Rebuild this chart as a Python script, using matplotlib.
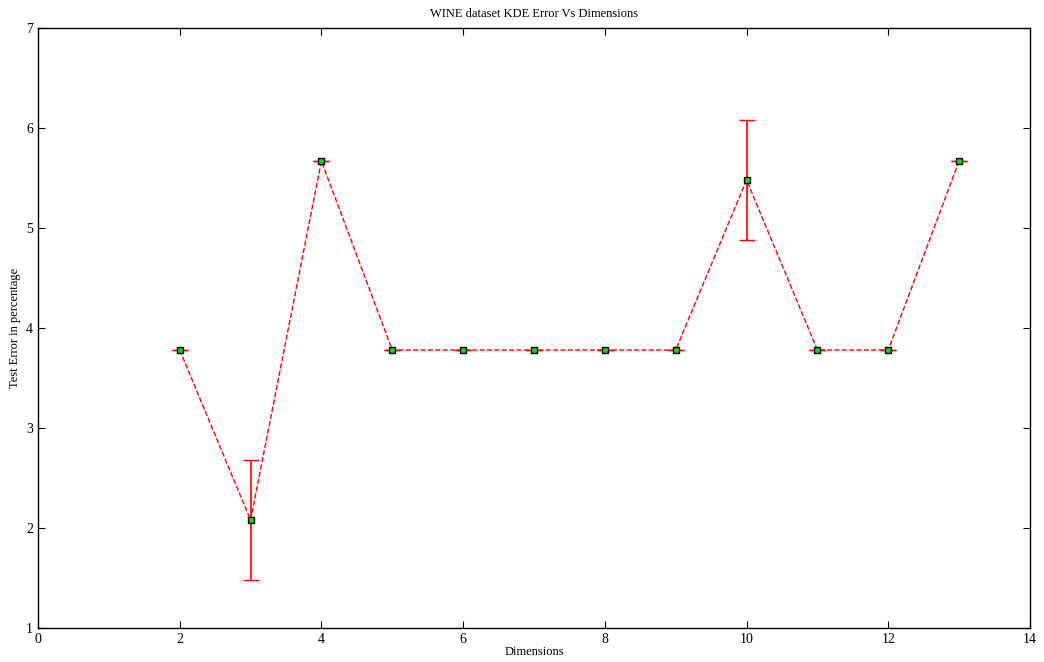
import numpy as np
import matplotlib
matplotlib.use("Agg")
import matplotlib.pyplot as plt

plt.rcParams['font.family'] = ['Liberation Serif', 'DejaVu Serif']

# data
dims = [2, 3, 4, 5, 6, 7, 8, 9, 10, 11, 12, 13]
err = [3.78, 2.08, 5.67, 3.78, 3.78, 3.78, 3.78, 3.78, 5.48, 3.78, 3.78, 5.67]
std = [0, 0.6, 0, 0, 0, 0, 0, 0, 0.6, 0, 0, 0]

fig = plt.figure(figsize=(10.44, 6.62), dpi=100)
ax = fig.add_axes([38 / 1044, 1 - 628 / 662, (1030 - 38) / 1044, 600 / 662])

ax.errorbar(dims, err, yerr=std, color='red', ls='--', lw=1, capsize=5.8,
            elinewidth=1.2, capthick=1.2, marker='s', ms=4,
            mfc='#00dd00', mec='black', mew=1)

ax.set_xlim(0, 14)
ax.set_ylim(1, 7)
ax.set_xticks(range(0, 15, 2))
ax.set_yticks(range(1, 8))
ax.tick_params(direction='in', top=True, right=True, labelsize=10, length=5)
for s in ax.spines.values():
    s.set_linewidth(1)

ax.set_title('WINE dataset KDE Error Vs Dimensions', fontsize=9, pad=8)
ax.set_xlabel('Dimensions', fontsize=9, labelpad=0)
ax.set_ylabel('Test Error in percentage', fontsize=9, labelpad=4)

fig.savefig('out.png', dpi=100)
